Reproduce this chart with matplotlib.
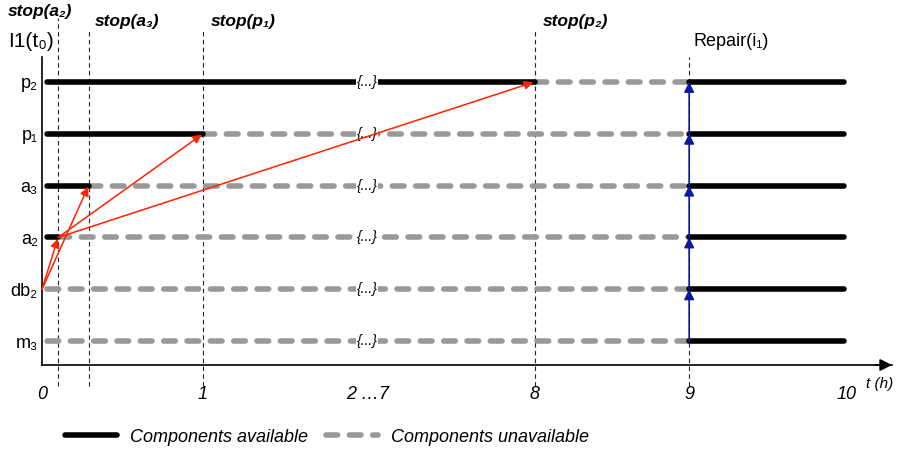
import numpy as np
import matplotlib
matplotlib.use("Agg")
from matplotlib import pyplot as plt
from matplotlib.lines import Line2D

plt.rcParams["font.family"] = ["Liberation Sans", "DejaVu Sans"]

# components (bottom to top) and the hour at which each one stops
components = ["m₃", "db₂", "a₂", "a₃", "p₁", "p₂"]
stop_hours = [0.0, 0.0, 0.1, 0.29, 1.0, 8.0]
repair_hour = 9.0
end_hour = 10.0

# failure propagation (source -> target)
propagation = [("db₂", "a₂"), ("db₂", "a₃"), ("a₂", "p₁"), ("a₂", "p₂")]

# time axis: hours 2..7 are squeezed into one slot
hour_marks = [0, 1, 4.5, 8, 9, 10]
mark_pos = [0, 1, 2.02, 3.06, 4.02, 5.0]
tick_labels = ["0", "1", "2 …7", "8", "9", "10"]

stop_labels = [("stop(a₂)", 0.1), ("stop(a₃)", 0.29), ("stop(p₁)", 1.0), ("stop(p₂)", 8.0)]


def pos(h):
    return np.interp(h, hour_marks, mark_pos)


BLACK = "#000000"
GRAY = "#999999"
RED = "#ff2200"
BLUE = "#0a1a9c"

fig = plt.figure(figsize=(8.98, 4.53), dpi=100)
ax = fig.add_axes([42 / 898, 88 / 453, 850 / 898, 308 / 453])

x_end = pos(end_hour)
x_rep = pos(repair_hour)
x_mid = pos(4.5)

for i, (name, s) in enumerate(zip(components, stop_hours)):
    xs = pos(s)
    if xs > 0:
        ax.plot([0.03, xs], [i, i], color=BLACK, lw=4, solid_capstyle="round", zorder=3)
    ax.plot([max(xs, 0.03), x_rep], [i, i], color=GRAY, lw=4,
            dashes=(2.1, 2.1), dash_capstyle="round", zorder=2)
    ax.plot([x_rep, x_end - 0.02], [i, i], color=BLACK, lw=4, solid_capstyle="round", zorder=3)
    ax.text(x_mid, i, "{...}", ha="center", va="center", fontsize=10, style="italic",
            bbox=dict(facecolor="white", edgecolor="none", pad=0.5), zorder=4)

# dashed vertical markers
for label, h in stop_labels:
    x = pos(h)
    top = 6.24 if h == 0.1 else 6.0
    ax.plot([x, x], [-0.87, top], color="#222222", lw=0.8, dashes=(4, 3),
            clip_on=False, zorder=1)
for (label, h), dx, y in zip(stop_labels, [-0.31, 0.04, 0.05, 0.05], [6.35, 6.16, 6.16, 6.16]):
    ax.text(pos(h) + dx, y, label, fontsize=12.5, style="italic", weight="bold",
            ha="left", va="center")
ax.plot([x_rep, x_rep], [-0.87, 5.48], color="#222222", lw=0.8, dashes=(4, 3),
        clip_on=False, zorder=1)
ax.text(x_rep + 0.03, 5.77, "Repair(i₁)", fontsize=13, ha="left", va="center")
ax.text(-0.21, 5.77, "I1(t₀)", fontsize=15, ha="left", va="center")

# propagation arrows
for src, dst in propagation:
    i0 = components.index(src)
    i1 = components.index(dst)
    x0 = pos(stop_hours[i0])
    x1 = pos(stop_hours[i1])
    ax.annotate("", xy=(x1, i1), xytext=(x0, i0),
                arrowprops=dict(arrowstyle="-|>", color=RED, lw=1.1,
                                mutation_scale=13, shrinkA=0, shrinkB=1), zorder=5)

# repair arrows
for i in range(len(components) - 1):
    ax.annotate("", xy=(x_rep, i + 1), xytext=(x_rep, i),
                arrowprops=dict(arrowstyle="-|>", color=BLUE, lw=1.2,
                                mutation_scale=15, shrinkA=0, shrinkB=0), zorder=5)

ax.set_xlim(0, 5.28)
ax.set_ylim(-0.46, 5.48)
ax.set_yticks(range(len(components)))
ax.set_yticklabels(components, fontsize=13)
ax.set_xticks(mark_pos)
ax.set_xticklabels(tick_labels, fontsize=13, style="italic")
ax.tick_params(axis="x", length=0, pad=15)
ax.tick_params(axis="y", length=0, pad=3)
for side in ["top", "right"]:
    ax.spines[side].set_visible(False)
ax.spines["left"].set_linewidth(1.2)
ax.spines["bottom"].set_linewidth(1.2)
ax.annotate("", xy=(1.0, 0), xytext=(0.98, 0), xycoords="axes fraction",
            arrowprops=dict(arrowstyle="-|>", color=BLACK, lw=1.2, mutation_scale=18,
                            shrinkA=0, shrinkB=0))
ax.text(5.12, -0.83, "t (h)", fontsize=11, style="italic", ha="left", va="center")

handles = [Line2D([], [], color=BLACK, lw=4, solid_capstyle="round"),
           Line2D([], [], color=GRAY, lw=4, dashes=(2.1, 2.1), dash_capstyle="round")]
fig.legend(handles, ["Components available", "Components unavailable"], ncol=2,
           loc="center", bbox_to_anchor=(327 / 898, 1 - 437 / 453), frameon=False,
           prop=dict(size=13, style="italic"), handlelength=2.9, handletextpad=0.7,
           columnspacing=1.0)

fig.savefig("out.png", dpi=100)
